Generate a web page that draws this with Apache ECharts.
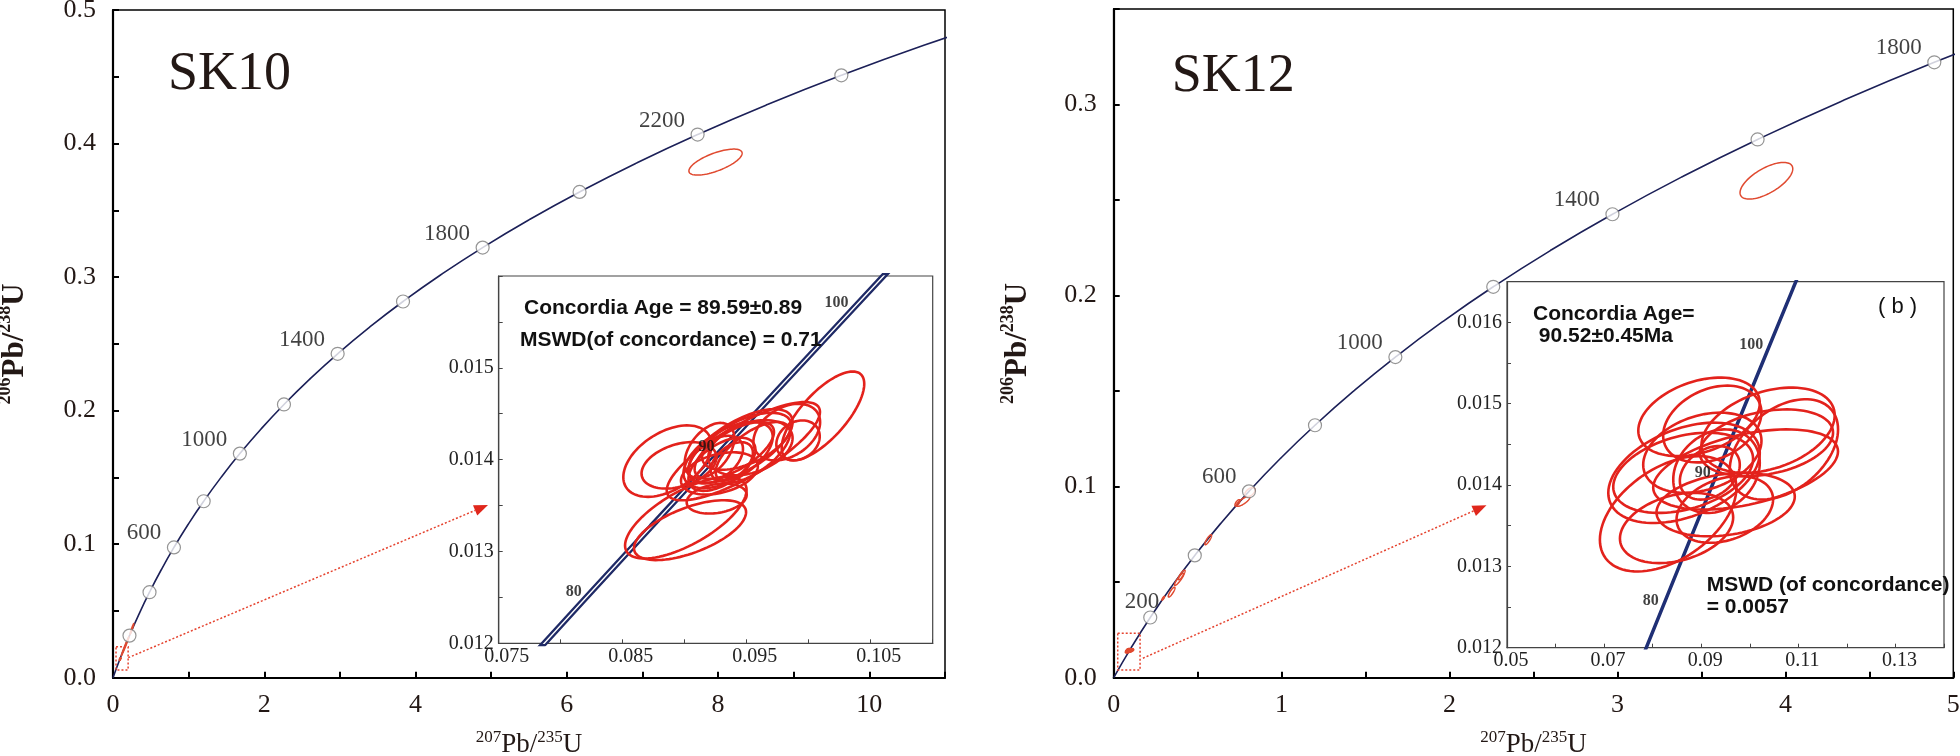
<!DOCTYPE html>
<html><head><meta charset="utf-8">
<script src="https://cdn.jsdelivr.net/npm/echarts@6/dist/echarts.min.js"></script>
<style>html,body{margin:0;padding:0;background:#fff}#c{width:1960px;height:756px}</style>
</head><body><div id="c"></div>
<script>
// ---------- Concordia curve (ages in Ma) ----------
const concAges = [0,100,200,300,400,500,600,700,800,900,1000,1100,1200,1300,1400,1500,1600,1700,1800,1900,2000,2100,2200,2300,2400,2500,2600];
const conc207 = [0,0.10350,0.21771,0.34374,0.48281,0.63628,0.80563,0.99251,1.19873,1.42630,1.67741,1.95452,2.26030,2.59774,2.97009,3.38099,3.83441,4.33477,4.88690,5.49618,6.16853,6.91045,7.72916,8.63261,9.62957,10.72971,11.94371];
const conc206 = [0,0.015633,0.031511,0.047637,0.064016,0.080650,0.097544,0.114702,0.132128,0.149828,0.167805,0.186061,0.204604,0.223436,0.242563,0.261989,0.281718,0.301756,0.322107,0.342776,0.363769,0.385089,0.406743,0.428735,0.451072,0.473757,0.496797];
const markerAgesSK10 = [200,400,600,800,1000,1200,1400,1600,1800,2000,2200,2400];
const labelAgesSK10 = [600,1000,1400,1800,2200];
const markerAgesSK12 = [200,400,600,800,1000,1200,1400,1600,1800];
const labelAgesSK12 = [200,600,1000,1400,1800];

// ---------- Inset concordia ----------
const insetAges = [70,75,80,85,90,95,100,105,110];
const inset207 = [0.071371,0.076660,0.081975,0.087316,0.092683,0.098077,0.103500,0.108945,0.114419];
const inset206 = [0.010918,0.011702,0.012487,0.013273,0.014059,0.014846,0.015633,0.016422,0.017210];
const insetLabelAges = [80,90,100];

// ---------- SK10 zircon ellipses (207/235, err, 206/238, err, rho) ----------
const sk10X   = [0.10115,0.08861,0.08954,0.09009,0.09043,0.09473,0.09823,0.09914,0.09258,0.0935,0.0940,0.0930,0.0945,0.0925,0.0950,0.0938,0.0928,0.0955,0.0920,0.0953];
const sk10SX  = [0.00333,0.00356,0.00302,0.00490,0.00452,0.00618,0.00269,0.00175,0.00242,0.0036,0.0032,0.0027,0.0042,0.0022,0.0036,0.0017,0.0031,0.0030,0.0020,0.0034];
const sk10Y   = [0.014476,0.013984,0.013938,0.013367,0.013232,0.014092,0.014300,0.014210,0.013576,0.01405,0.01410,0.01395,0.01415,0.01400,0.01420,0.01398,0.01385,0.01408,0.01410,0.01413];
const sk10SY  = [0.000484,0.000389,0.000253,0.000444,0.000326,0.000535,0.000308,0.000217,0.000163,0.00036,0.00031,0.00029,0.00040,0.00026,0.00031,0.00021,0.00023,0.00033,0.00030,0.00030];
const sk10Rho = [0.72,0.45,0.35,0.68,0.6,0.8,0.35,0.2,0.25,0.55,0.65,0.55,0.65,0.45,0.55,0.45,0.35,0.65,0.45,0.35];
// SK10 older grains (main diagram only)
const sk10OldX   = [0.16,0.25,7.966];
const sk10OldSX  = [0.05,0.025,0.352];
const sk10OldY   = [0.0235,0.0365,0.3861];
const sk10OldSY  = [0.007,0.004,0.00974];
const sk10OldRho = [0.99,0.97,0.68];

// ---------- SK12 zircon ellipses ----------
const sk12X   = [0.08955,0.09228,0.10377,0.10703,0.09914,0.08646,0.08319,0.08492,0.09503,0.09486,0.09023,0.09315,0.10343,0.08628,0.09177];
const sk12SX  = [0.01251,0.01012,0.01372,0.01115,0.01903,0.01560,0.01406,0.01166,0.01424,0.00994,0.01218,0.00891,0.01372,0.01440,0.00617];
const sk12Y   = [0.014838,0.014750,0.014674,0.014438,0.014191,0.014150,0.013646,0.013472,0.013760,0.013700,0.014397,0.014170,0.014520,0.014150,0.014150];
const sk12SY  = [0.000483,0.000472,0.000524,0.000617,0.000493,0.000617,0.000709,0.000432,0.000390,0.000410,0.000493,0.000514,0.000410,0.000493,0.000329];
const sk12Rho = [0.35,0.3,0.35,0.4,0.45,0.4,0.45,0.3,0.25,0.3,0.3,0.2,0.3,0.35,0.3];
// SK12 older grains (main diagram only)
const sk12OldX   = [0.295,0.345,0.39,0.405,0.563,0.771,0.811,0.737,3.887];
const sk12OldSX  = [0.008,0.02,0.028,0.02,0.02,0.04,0.03,0.015,0.157];
const sk12OldY   = [0.0416,0.0448,0.0515,0.0538,0.0722,0.0923,0.0971,0.0915,0.2601];
const sk12OldSY  = [0.0010,0.0026,0.0032,0.0025,0.0026,0.0026,0.0024,0.0017,0.0096];
const sk12OldRho = [0.85,0.85,0.9,0.85,0.85,0.8,0.5,0.7,0.65];

// ---------- zoom-box annotations (data coords of main diagrams) ----------
const sk10Zoom = [0.04,0.0058,0.2,0.0232, 0.202,0.015,4.958,0.1294];
const sk12Zoom = [0.024,0.004,0.157,0.0233, 0.174,0.0102,2.22,0.0903];

// ======================================================================
const SERIF = '"Liberation Serif", "Times New Roman", serif';
const TXT = '#231815';
const NAVY = '#1c2058';

function pairs(xs, ys, n) { const out=[]; for (let i=0;i<(n||xs.length);i++) out.push([xs[i], ys[i]]); return out; }
function ellData(x,sx,y,sy,r){ return x.map((v,i)=>[v,sx[i],y[i],sy[i],r[i]]); }

function ellipseRender(width, color) {
  return function (params, api) {
    const x = api.value(0), sx = api.value(1), y = api.value(2), sy = api.value(3), r = api.value(4);
    const k = Math.sqrt(Math.max(0, 1 - r * r));
    const pts = [];
    for (let i = 0; i <= 90; i++) {
      const t = i / 90 * 2 * Math.PI, c = Math.cos(t), s = Math.sin(t);
      pts.push(api.coord([x + sx * c, y + sy * (r * c + k * s)]));
    }
    return { type: 'polygon', shape: { points: pts }, style: { fill: 'none', stroke: color, lineWidth: width } };
  };
}
function zoomRender(params, api) {
  const p1 = api.coord([api.value(0), api.value(1)]), p2 = api.coord([api.value(2), api.value(3)]);
  const a = api.coord([api.value(4), api.value(5)]), b = api.coord([api.value(6), api.value(7)]);
  const dx = b[0]-a[0], dy = b[1]-a[1], L = Math.hypot(dx, dy), ux = dx/L, uy = dy/L;
  const hl = 14, hw = 5.5, base = [b[0]-ux*hl, b[1]-uy*hl];
  const col = '#e5432f';
  return { type: 'group', children: [
    { type: 'rect', shape: { x: Math.min(p1[0],p2[0]), y: Math.min(p1[1],p2[1]), width: Math.abs(p2[0]-p1[0]), height: Math.abs(p2[1]-p1[1]) },
      style: { fill: 'none', stroke: col, lineWidth: 1.5, lineDash: [2, 2] } },
    { type: 'line', shape: { x1: a[0], y1: a[1], x2: base[0], y2: base[1] }, style: { stroke: col, lineWidth: 1.5, lineDash: [2, 2] } },
    { type: 'polygon', shape: { points: [b, [base[0]-uy*hw, base[1]+ux*hw], [base[0]+uy*hw, base[1]-ux*hw]] }, style: { fill: '#e0271c' } }
  ]};
}

function markerData(ages, labelAges, special) {
  return ages.map(a => {
    const i = concAges.indexOf(a);
    const item = { value: [conc207[i], conc206[i]] };
    const show = labelAges.indexOf(a) >= 0;
    item.label = { show: show, position: 'left', distance: 5.5, offset: [0, -14],
      fontFamily: SERIF, fontSize: 23, color: '#111' };
    if (special && special[a]) item.label.offset = special[a];
    return item;
  });
}
function insetLabelData() {
  return insetLabelAges.map(a => { const i = insetAges.indexOf(a); return { value: [inset207[i], inset206[i]], name: String(a) }; });
}

const xTitleRich = {
  s: { fontFamily: SERIF, fontSize: 17, color: TXT, verticalAlign: 'top', lineHeight: 30 },
  m: { fontFamily: SERIF, fontSize: 27, color: TXT, verticalAlign: 'bottom', lineHeight: 30 }
};
const yTitleRich = {
  s: { fontFamily: SERIF, fontSize: 18, fontWeight: 'bold', color: TXT, verticalAlign: 'top', lineHeight: 34 },
  m: { fontFamily: SERIF, fontSize: 31, fontWeight: 'bold', color: TXT, verticalAlign: 'bottom', lineHeight: 34 }
};

function mainX(gi, max, interval, fmt) {
  return { type: 'value', gridIndex: gi, min: 0, max: max, interval: interval,
    axisLine: { lineStyle: { color: '#000', width: 2.2 } },
    axisTick: { inside: true, length: 6, lineStyle: { color: '#000', width: 2 } },
    splitLine: { show: false },
    axisLabel: { fontFamily: SERIF, fontSize: 26, color: TXT, margin: 14, formatter: fmt },
    name: '{s|207}{m|Pb/}{s|235}{m|U}', nameLocation: 'middle', nameGap: 51,
    nameTextStyle: { rich: xTitleRich } };
}
function mainY(gi, max, gap) {
  return { type: 'value', gridIndex: gi, min: 0, max: max, interval: 0.05,
    axisLine: { lineStyle: { color: '#000', width: 2.2 } },
    axisTick: { inside: true, length: 6, lineStyle: { color: '#000', width: 2 } },
    splitLine: { show: false },
    axisLabel: { fontFamily: SERIF, fontSize: 26, color: TXT, margin: 17,
      formatter: v => { const k = Math.round(v * 100); return k % 10 === 0 ? (k / 100).toFixed(1) : ''; } },
    name: '{s|206}{m|Pb/}{s|238}{m|U}', nameLocation: 'middle', nameGap: gap,
    nameTextStyle: { rich: yTitleRich } };
}
function insetAxis(type, gi, min, max, interval, digits, maxK, pad) {
  return { type: 'value', gridIndex: gi, min: min, max: max, interval: interval,
    axisLine: { lineStyle: { color: '#444', width: 1.2 } },
    axisTick: { inside: true, length: 4, lineStyle: { color: '#444', width: 1 } },
    splitLine: { show: false },
    axisLabel: { fontFamily: SERIF, fontSize: 20, color: '#222', margin: type === 'x' ? 3 : 5,
      formatter: v => { const k = Math.round((v - min) / interval); if (k % 2 !== 0 || k > maxK) return '';
        return type === 'x' ? '{o|' + v.toFixed(digits) + '}' : v.toFixed(digits); },
      rich: { o: { fontFamily: SERIF, fontSize: 20, color: '#222', padding: [0, 0, 0, pad] } } } };
}

const option = {
  animation: false,
  backgroundColor: '#fff',
  grid: [
    { left: 113, top: 10, width: 832, height: 667.7, show: true, borderColor: '#000', borderWidth: 1.5, outerBoundsMode: 'none' },
    { left: 498.7, top: 276, width: 434, height: 367.3, show: true, backgroundColor: '#fff', borderColor: '#444', borderWidth: 1.2, outerBoundsMode: 'none' },
    { left: 1113.7, top: 9, width: 839.6, height: 668.7, show: true, borderColor: '#000', borderWidth: 1.5, outerBoundsMode: 'none' },
    { left: 1507, top: 281.7, width: 437, height: 366, show: true, backgroundColor: '#fff', borderColor: '#444', borderWidth: 1.2, outerBoundsMode: 'none' }
  ],
  xAxis: [
    mainX(0, 11, 1, v => { const k = Math.round(v); return (Math.abs(v - k) < 1e-6 && k % 2 === 0) ? String(k) : ''; }),
    insetAxis('x', 1, 0.075, 0.11, 0.005, 3, 6, 16),
    mainX(2, 5, 0.5, v => { const k = Math.round(v); return Math.abs(v - k) < 1e-6 ? String(k) : ''; }),
    insetAxis('x', 3, 0.05, 0.14, 0.01, 2, 8, 8)
  ],
  yAxis: [
    mainY(0, 0.5, 83),
    insetAxis('y', 1, 0.012, 0.016, 0.0005, 3, 6, 0),
    mainY(2, 0.35, 80),
    insetAxis('y', 3, 0.012, 0.0165, 0.0005, 3, 8, 0)
  ],
  series: [
    // ----- SK10 main -----
    { type: 'line', xAxisIndex: 0, yAxisIndex: 0, data: pairs(conc207, conc206), smooth: true, symbol: 'none', clip: true,
      lineStyle: { color: NAVY, width: 1.6 }, z: 2 },
    { type: 'custom', xAxisIndex: 0, yAxisIndex: 0, renderItem: ellipseRender(1.5, '#e04a30'),
      data: ellData(sk10X, sk10SX, sk10Y, sk10SY, sk10Rho).concat(ellData(sk10OldX, sk10OldSX, sk10OldY, sk10OldSY, sk10OldRho)), z: 3 },
    { type: 'scatter', xAxisIndex: 0, yAxisIndex: 0, symbol: 'circle', symbolSize: 13,
      itemStyle: { color: '#fff', borderColor: '#7a7a7a', borderWidth: 1.2 },
      label: { fontFamily: SERIF, fontSize: 23, color: '#111', formatter: p => String(markerAgesSK10[p.dataIndex]) },
      data: markerData(markerAgesSK10, labelAgesSK10), z: 4 },
    { type: 'custom', xAxisIndex: 0, yAxisIndex: 0, renderItem: zoomRender, data: [sk10Zoom], z: 5 },
    // ----- SK10 inset -----
    { type: 'line', xAxisIndex: 1, yAxisIndex: 1, data: pairs(inset207, inset206), symbol: 'none', clip: true,
      lineStyle: { color: '#1f2a66', width: 6 }, z: 2 },
    { type: 'line', xAxisIndex: 1, yAxisIndex: 1, data: pairs(inset207, inset206), symbol: 'none', clip: true,
      lineStyle: { color: '#ffffff', width: 1.4 }, z: 2 },
    { type: 'custom', xAxisIndex: 1, yAxisIndex: 1, renderItem: ellipseRender(2.6, '#e3221c'),
      data: ellData(sk10X, sk10SX, sk10Y, sk10SY, sk10Rho), z: 3 },
    { type: 'scatter', xAxisIndex: 1, yAxisIndex: 1, symbol: 'circle', symbolSize: 1, itemStyle: { color: 'transparent' },
      label: { show: true, position: 'left', distance: 3, offset: [0, -7], fontFamily: SERIF, fontWeight: 'bold', fontSize: 16, color: '#111', formatter: '{b}' },
      data: insetLabelData(), z: 4 },
    // ----- SK12 main -----
    { type: 'line', xAxisIndex: 2, yAxisIndex: 2, data: pairs(conc207, conc206, 20), smooth: true, symbol: 'none', clip: true,
      lineStyle: { color: NAVY, width: 1.6 }, z: 2 },
    { type: 'custom', xAxisIndex: 2, yAxisIndex: 2, renderItem: ellipseRender(1.5, '#e04a30'),
      data: ellData(sk12X, sk12SX, sk12Y, sk12SY, sk12Rho).concat(ellData(sk12OldX, sk12OldSX, sk12OldY, sk12OldSY, sk12OldRho)), z: 3 },
    { type: 'scatter', xAxisIndex: 2, yAxisIndex: 2, symbol: 'circle', symbolSize: 13,
      itemStyle: { color: '#fff', borderColor: '#7a7a7a', borderWidth: 1.2 },
      label: { fontFamily: SERIF, fontSize: 23, color: '#111', formatter: p => String(markerAgesSK12[p.dataIndex]) },
      data: markerData(markerAgesSK12, labelAgesSK12, { 200: [21.5, -16] }), z: 4 },
    { type: 'custom', xAxisIndex: 2, yAxisIndex: 2, renderItem: zoomRender, data: [sk12Zoom], z: 5 },
    // ----- SK12 inset -----
    { type: 'line', xAxisIndex: 3, yAxisIndex: 3, data: pairs(inset207, inset206), symbol: 'none', clip: true,
      lineStyle: { color: '#1f2f75', width: 3.5 }, z: 2 },
    { type: 'custom', xAxisIndex: 3, yAxisIndex: 3, renderItem: ellipseRender(2.6, '#e3221c'),
      data: ellData(sk12X, sk12SX, sk12Y, sk12SY, sk12Rho), z: 3 },
    { type: 'scatter', xAxisIndex: 3, yAxisIndex: 3, symbol: 'circle', symbolSize: 1, itemStyle: { color: 'transparent' },
      label: { show: true, position: 'left', distance: 3, offset: [0, -7], fontFamily: SERIF, fontWeight: 'bold', fontSize: 16, color: '#111', formatter: '{b}' },
      data: insetLabelData(), z: 4 }
  ],
  graphic: [
    { type: 'text', z: 100, style: { x: 168, y: 75, text: 'SK10', font: '54px "Liberation Serif"', fill: TXT, textAlign: 'left', textVerticalAlign: 'middle', align: 'left', verticalAlign: 'middle' } },
    { type: 'text', z: 100, style: { x: 1171.7, y: 77, text: 'SK12', font: '54px "Liberation Serif"', fill: TXT, textAlign: 'left', textVerticalAlign: 'middle', align: 'left', verticalAlign: 'middle' } },
    { type: 'text', z: 100, style: { x: 524, y: 308, text: 'Concordia Age = 89.59±0.89', font: 'bold 21px "Liberation Sans"', fill: '#111', textAlign: 'left', textVerticalAlign: 'middle', align: 'left', verticalAlign: 'middle' } },
    { type: 'text', z: 100, style: { x: 520, y: 340, text: 'MSWD(of concordance) = 0.71', font: 'bold 21px "Liberation Sans"', fill: '#111', textAlign: 'left', textVerticalAlign: 'middle', align: 'left', verticalAlign: 'middle' } },
    { type: 'text', z: 100, style: { x: 1533, y: 314, text: 'Concordia Age=', font: 'bold 21px "Liberation Sans"', fill: '#111', textAlign: 'left', textVerticalAlign: 'middle', align: 'left', verticalAlign: 'middle' } },
    { type: 'text', z: 100, style: { x: 1533, y: 336, text: ' 90.52±0.45Ma', font: 'bold 21px "Liberation Sans"', fill: '#111', textAlign: 'left', textVerticalAlign: 'middle', align: 'left', verticalAlign: 'middle' } },
    { type: 'text', z: 100, style: { x: 1878, y: 307, text: '( b )', font: '22px "Liberation Sans"', fill: '#111', textAlign: 'left', textVerticalAlign: 'middle', align: 'left', verticalAlign: 'middle' } },
    { type: 'text', z: 100, style: { x: 1706.7, y: 585, text: 'MSWD (of concordance)', font: 'bold 21px "Liberation Sans"', fill: '#111', textAlign: 'left', textVerticalAlign: 'middle', align: 'left', verticalAlign: 'middle' } },
    { type: 'text', z: 100, style: { x: 1706.7, y: 607, text: '= 0.0057', font: 'bold 21px "Liberation Sans"', fill: '#111', textAlign: 'left', textVerticalAlign: 'middle', align: 'left', verticalAlign: 'middle' } }
  ]
};
const chart = echarts.init(document.getElementById('c'), null, { renderer: 'canvas' });
chart.setOption(option);
</script>
</body></html>
